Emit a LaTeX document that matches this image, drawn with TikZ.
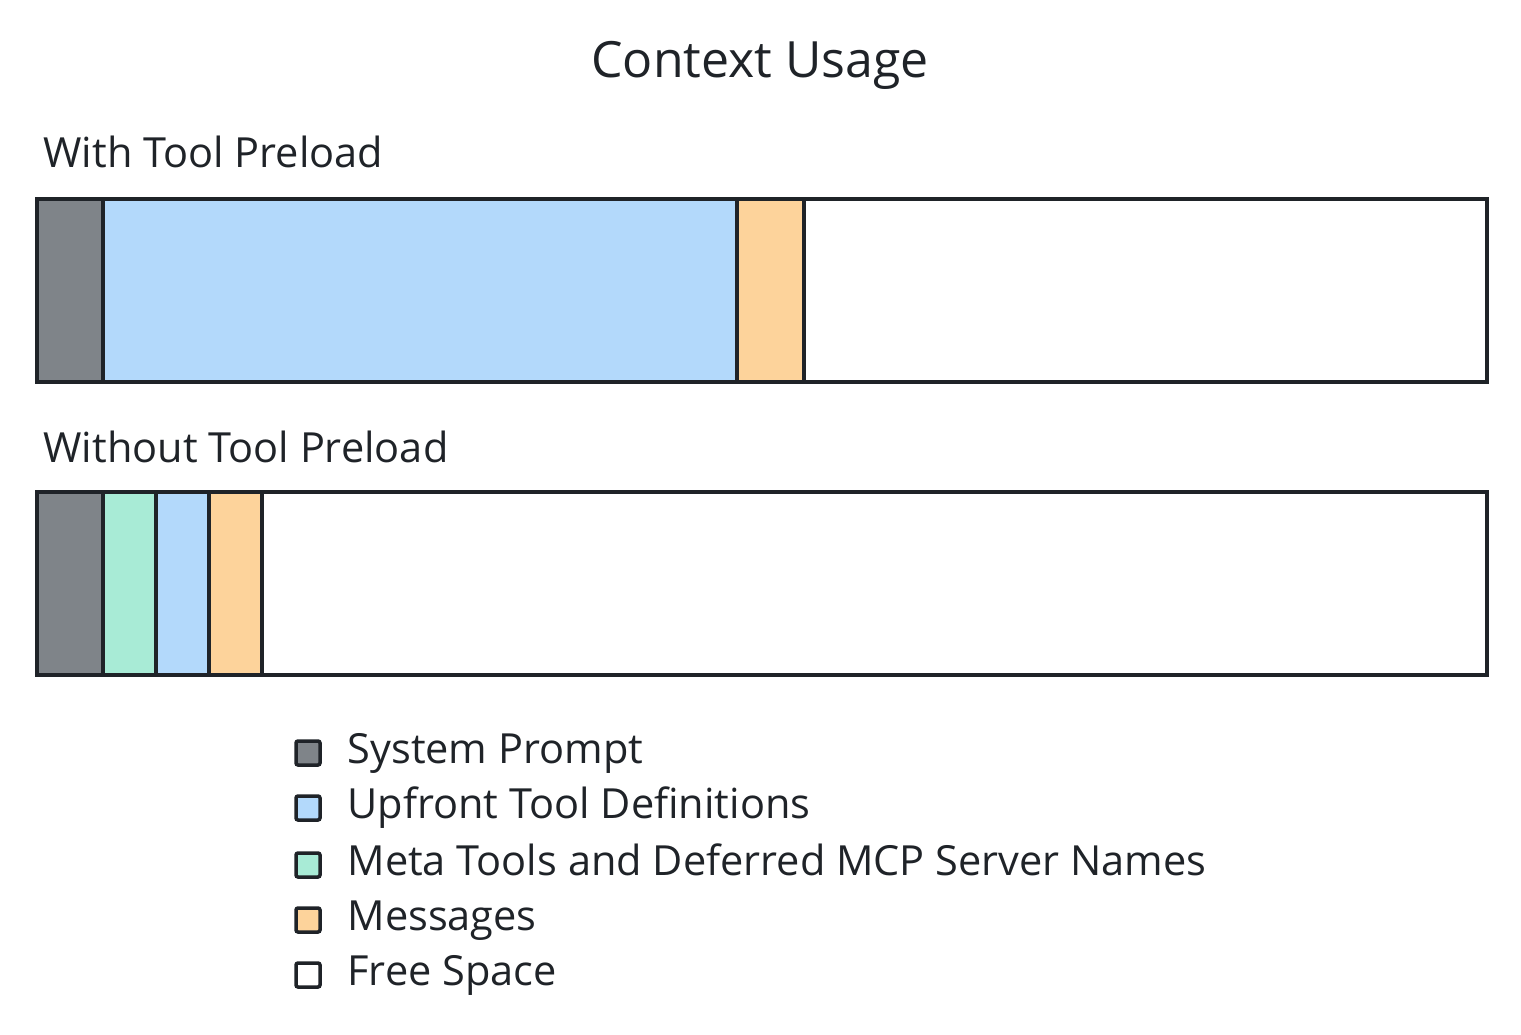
\documentclass[tikz,border=0pt]{standalone}
\usepackage{fontspec}
\setmainfont{Open Sans}
\definecolor{cg}{HTML}{7F8489}
\definecolor{cb}{HTML}{B3D9FB}
\definecolor{cn}{HTML}{A8EBD6}
\definecolor{co}{HTML}{FDD39B}
\definecolor{bd}{HTML}{1F2328}
\begin{document}
\begin{tikzpicture}[x=1pt,y=-1pt,
 seg/.style={draw=bd,line width=4pt},
 lab/.style={anchor=west,font=\fontsize{41.5}{48}\selectfont,text=bd,text height=30pt,text depth=10pt},
 sq/.style={draw=bd,line width=3.5pt,rounded corners=2pt,minimum size=24pt,inner sep=0pt}]
\useasboundingbox (0,0) rectangle (1521,1034);
\node[font=\fontsize{50}{58}\selectfont,text=bd,text height=36pt,text depth=12pt] (title) at (760,65) {Context Usage};
\node[lab] (l1) at (40,157) {With Tool Preload};
\node[lab] (l2) at (40,452) {Without Tool Preload};
% bar 1
\filldraw[seg,fill=white] (37,199) rectangle (1487,382);
\filldraw[seg,fill=cg] (37,199) rectangle (103,382);
\filldraw[seg,fill=cb] (103,199) rectangle (737,382);
\filldraw[seg,fill=co] (737,199) rectangle (804,382);
% bar 2
\filldraw[seg,fill=white] (37,492) rectangle (1487,675);
\filldraw[seg,fill=cg] (37,492) rectangle (103,675);
\filldraw[seg,fill=cn] (103,492) rectangle (156,675);
\filldraw[seg,fill=cb] (156,492) rectangle (209,675);
\filldraw[seg,fill=co] (209,492) rectangle (262,675);
% legend
\node[sq,fill=cg] (s1) at (308,753) {}; \node[lab] (t1) at (344,753) {System Prompt};
\node[sq,fill=cb] (s2) at (308,808) {}; \node[lab] (t2) at (344,808) {Upfront Tool Definitions};
\node[sq,fill=cn] (s3) at (308,865) {}; \node[lab] (t3) at (344,865) {Meta Tools and Deferred MCP Server Names};
\node[sq,fill=co] (s4) at (308,920) {}; \node[lab] (t4) at (344,920) {Messages};
\node[sq,fill=white] (s5) at (308,975) {}; \node[lab] (t5) at (344,975) {Free Space};
\end{tikzpicture}
\end{document}
